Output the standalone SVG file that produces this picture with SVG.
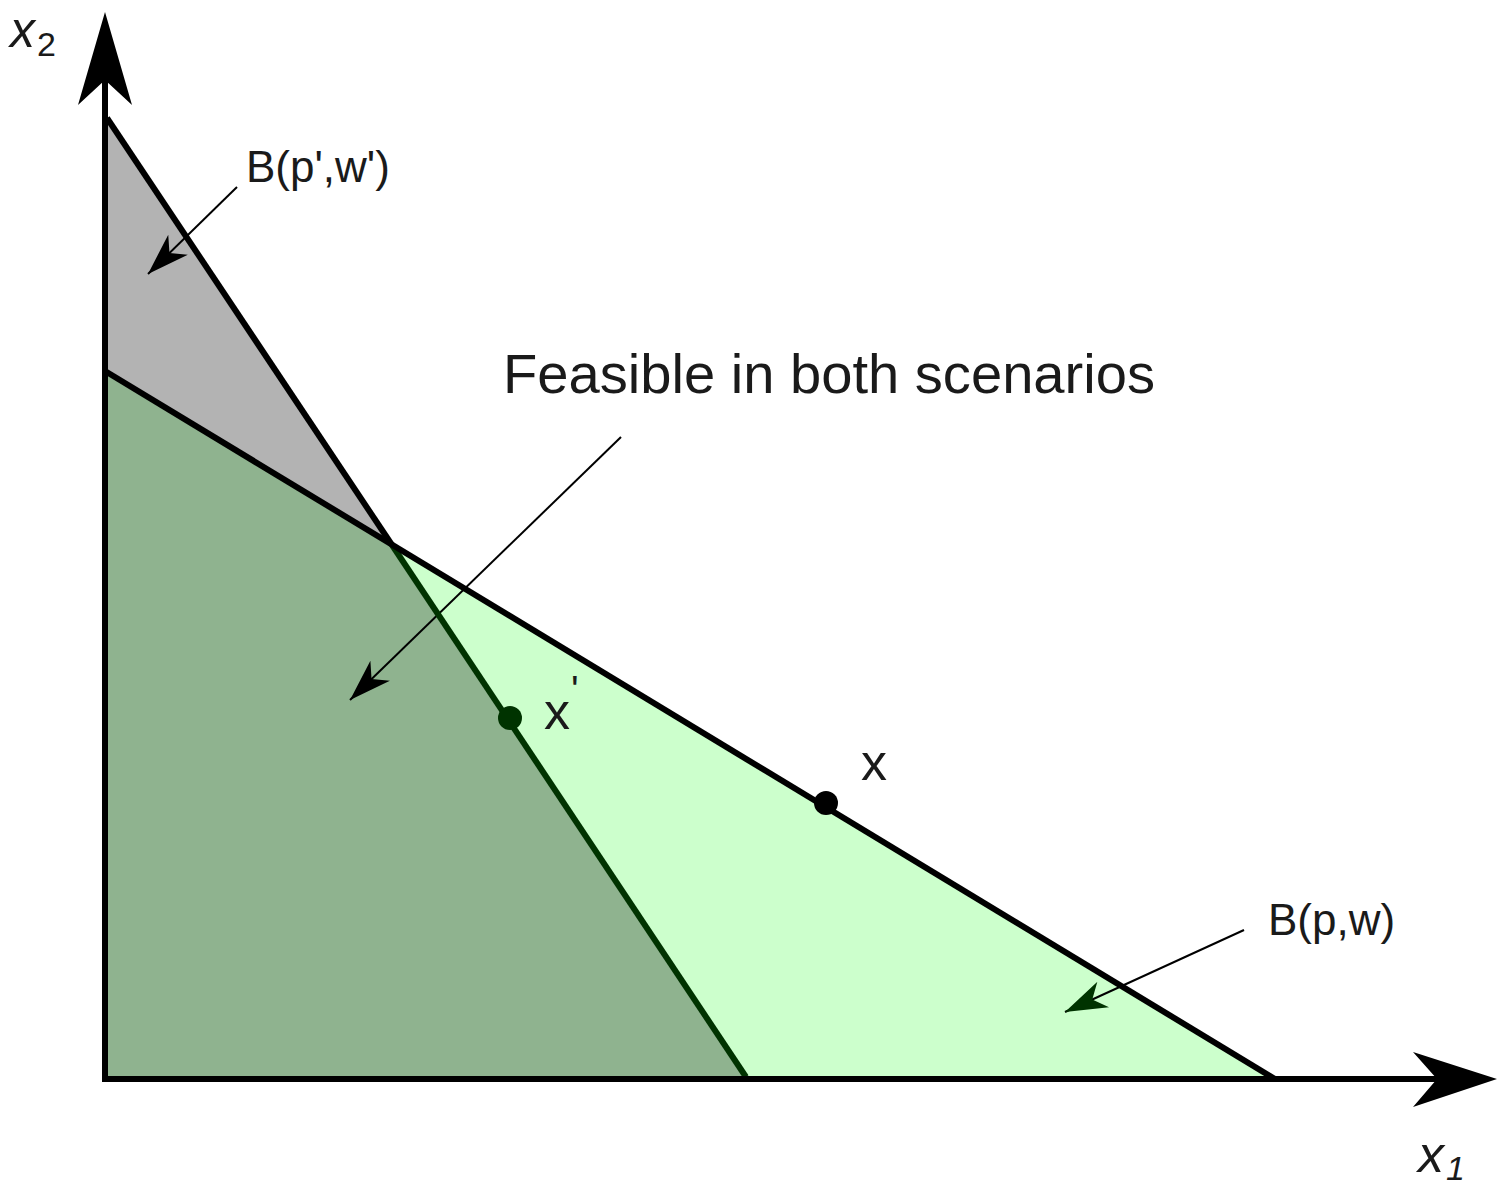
<svg xmlns="http://www.w3.org/2000/svg" width="1497" height="1187" viewBox="0 0 1497 1187">
<style>
text{font-family:"Liberation Sans",Arial,sans-serif;fill:#1a1a1a}
.bl{stroke:#000;stroke-width:6;fill:none;stroke-linecap:butt}
.th{stroke:#000;stroke-width:2;fill:none}
.ax{font-style:italic}
</style>
<defs>
<marker id="ah" markerUnits="userSpaceOnUse" markerWidth="60" markerHeight="40" viewBox="-45 -20 50 40" refX="0" refY="0" orient="auto">
<path d="M0,0 L-42,-14 L-30,0 L-42,14 Z" fill="#000"/>
</marker>
<marker id="ahg" markerUnits="userSpaceOnUse" markerWidth="60" markerHeight="40" viewBox="-45 -20 50 40" refX="0" refY="0" orient="auto">
<path d="M0,0 L-42,-14 L-30,0 L-42,14 Z" fill="#003300"/>
</marker>
</defs>
<rect width="1497" height="1187" fill="#fff"/>
<g id="regions">
<polygon points="105,118 392,545 105,371" fill="#b3b3b3"/>
<polygon points="105,371 392,545 746,1079 105,1079" fill="#8fb38f"/>
<polygon points="392,545 1275,1079 746,1079" fill="#ccffcc"/>
</g>
<g id="connectors">
<line class="th" x1="237" y1="187" x2="148" y2="274" marker-end="url(#ah)"/>
<line class="th" x1="621" y1="437" x2="350" y2="700" marker-end="url(#ah)"/>
<line class="th" x1="1244" y1="930" x2="1065" y2="1012" marker-end="url(#ahg)"/>
</g>
<g id="budget-lines">
<line class="bl" x1="107" y1="118" x2="392" y2="545"/>
<line class="bl" x1="392" y1="545" x2="746" y2="1077" style="stroke:#003300"/>
<line class="bl" x1="105" y1="371" x2="1275" y2="1079"/>
</g>
<g id="axes">
<line class="bl" x1="105" y1="1079" x2="105" y2="60"/>
<polygon points="105,12 132,105 105,80 78,105" fill="#000"/>
<line class="bl" x1="102" y1="1079" x2="1450" y2="1079"/>
<polygon points="1497,1079 1413,1107 1437,1079 1413,1052" fill="#000"/>
</g>
<g id="point-x-prime">
<circle cx="510" cy="718" r="12" fill="#003300"/>
<text x="544" y="729" font-size="52">x</text>
<text x="571" y="704" font-size="40">'</text>
</g>
<g id="point-x">
<circle cx="826" cy="803" r="12" fill="#000"/>
<text x="861" y="780" font-size="52">x</text>
</g>
<g id="label-feasible">
<text x="503" y="393" font-size="55" textLength="652" lengthAdjust="spacingAndGlyphs">Feasible in both scenarios</text>
</g>
<g id="label-bpw-prime">
<text x="246" y="182" font-size="44">B(p',w')</text>
</g>
<g id="label-bpw">
<text x="1268" y="935" font-size="44">B(p,w)</text>
</g>
<g id="axis-labels">
<text class="ax" x="10" y="47" font-size="50">x<tspan font-size="34" dx="2" dy="9" font-style="normal">2</tspan></text>
<text class="ax" x="1418" y="1172" font-size="52">x<tspan font-size="34" dx="2" dy="8">1</tspan></text>
</g>
</svg>
